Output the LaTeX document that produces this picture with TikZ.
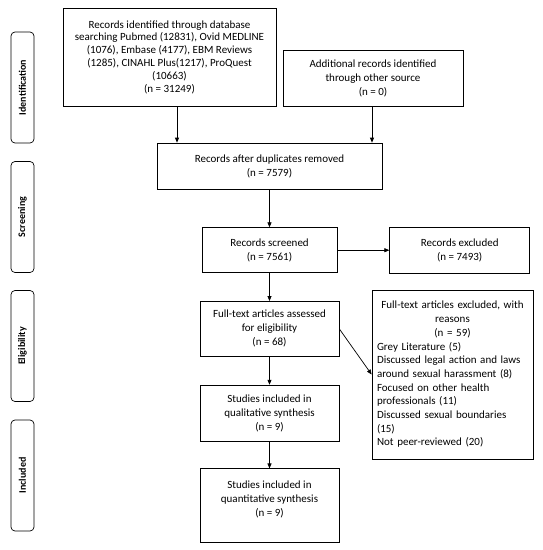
\documentclass[tikz,border=0pt]{standalone}
\usepackage{fontspec}
\setmainfont{Carlito}
\usepackage{tikz}
\usetikzlibrary{arrows.meta,calc,positioning}

\begin{document}
\begin{tikzpicture}[
    x=1pt, y=-1pt,
    font=\fontsize{11pt}{14pt}\selectfont,
    box/.style={
        draw,
        line width=0.7pt,
        align=center,
        inner sep=2pt
    },
    phase/.style={
        draw,
        line width=0.7pt,
        rounded corners=4pt,
        rotate=90,
        minimum width=111pt,
        minimum height=23pt,
        font=\bfseries\fontsize{10pt}{12pt}\selectfont
    },
    arr/.style={-{Triangle[length=5pt,width=4pt]}, line width=0.7pt}
]
    \useasboundingbox (0,0) rectangle (543,550);

    %% Phase labels
    \node[phase] (idn)  at (22.5,87.5) {Identification};
    \node[phase] (scr)  at (22.5,217)  {Screening};
    \node[phase] (elig) at (22.5,346)  {Eligibility};
    \node[phase] (incl) at (22.5,475.5) {Included};

    %% Identification
    \node[box, minimum width=213pt, minimum height=98pt,
          font=\fontsize{11pt}{12.8pt}\selectfont] (search) at (169.5,57)
        {Records identified through database\\
         searching Pubmed (12831), Ovid MEDLINE\\
         (1076), Embase (4177), EBM Reviews\\
         (1285), CINAHL Plus(1217), ProQuest\\
         (10663)\\
         (n = 31249)};
    \node[box, minimum width=180pt, minimum height=56pt] (other) at (373,78)
        {Additional records identified\\through other source\\(n = 0)};

    %% Screening
    \node[box, minimum width=225pt, minimum height=46pt] (dedup) at (269.5,166)
        {Records after duplicates removed\\(n = 7579)};
    \node[box, below=38pt of dedup, minimum width=135pt, minimum height=45pt] (screened)
        {Records screened\\(n = 7561)};
    \node[box, right=52pt of screened, minimum width=140pt, minimum height=46pt] (excl)
        {Records excluded\\(n = 7493)};

    %% Eligibility
    \node[box, below=28pt of screened, minimum width=139pt, minimum height=55pt] (fulltext)
        {Full-text articles assessed\\for eligibility\\(n = 68)};
    \node[box, text width=151pt, inner xsep=5pt, minimum height=169pt, align=left,
          font=\fontsize{11pt}{13.7pt}\selectfont] (reasons) at (452.5,374.5)
        {{\centering Full-text articles excluded, with\\reasons\\(n = 59)\par}%
         Grey Literature (5)\\
         Discussed legal action and laws\\
         around sexual harassment (8)\\
         Focused on other health\\
         professionals (11)\\
         Discussed sexual boundaries\\
         (15)\\
         Not peer-reviewed (20)};

    %% Included
    \node[box, below=28pt of fulltext, minimum width=139pt, minimum height=56pt] (qual)
        {Studies included in\\qualitative synthesis\\(n = 9)};
    \node[box, below=27pt of qual, minimum width=139pt, minimum height=74pt] (quant)
        {Studies included in\\quantitative synthesis\\(n = 9)\\ \mbox{}};

    %% Arrows
    \draw[arr] ([xshift=7.5pt]search.south) -- ([xshift=7.5pt]search.south |- dedup.north);
    \draw[arr] ([xshift=-1pt]other.south) -- ([xshift=-1pt]other.south |- dedup.north);
    \draw[arr] (dedup) -- (screened);
    \draw[arr] (screened) -- (excl);
    \draw[arr] (screened) -- (fulltext);
    \draw[arr] (fulltext.east) -- (reasons.west);
    \draw[arr] (fulltext) -- (qual);
    \draw[arr] (qual) -- (quant);
\end{tikzpicture}
\end{document}
